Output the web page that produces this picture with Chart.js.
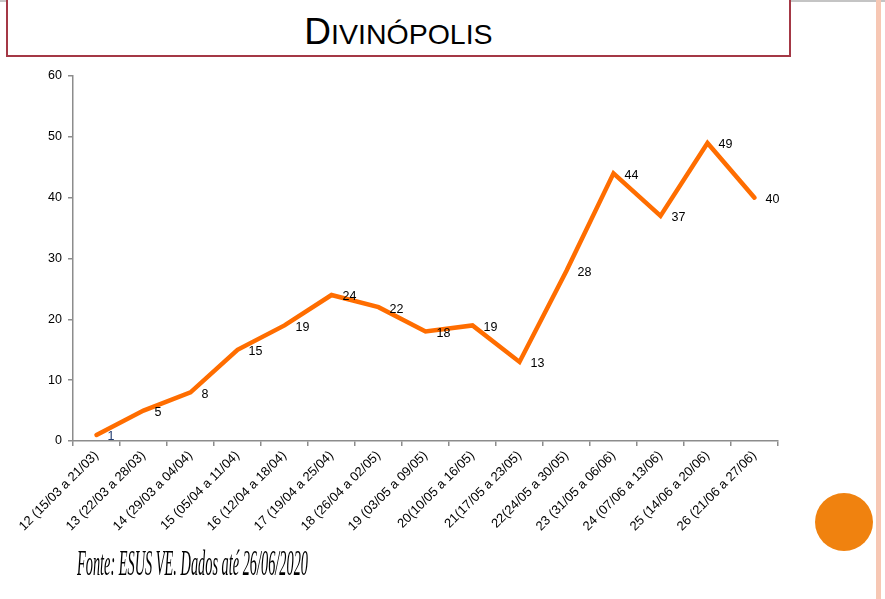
<!DOCTYPE html>
<html>
<head>
<meta charset="utf-8">
<script src="https://cdn.jsdelivr.net/npm/chart.js@4"></script>
<style>
  html, body { margin: 0; padding: 0; background: #fff; overflow: hidden; }
  #page { position: relative; width: 885px; height: 599px; }
  #topline { position: absolute; left: 0; top: 0; width: 885px; height: 2px; background: #c4c4c4; }
  #titlebox { position: absolute; left: 6px; top: -20px; width: 781px; height: 73px;
              border: 2.5px solid #a43845; background: #fff; text-align: center; }
  #title { position: absolute; left: 0; right: 0; top: 31px; font-family: Arial, "Liberation Sans", sans-serif;
           color: #000; line-height: 1; }
  #title .big { font-size: 37px; }
  #title .small { font-size: 28.5px; }
  #chart { position: absolute; left: 0; top: 0; }
  #fonte { position: absolute; left: 77px; top: 542px; font-family: "Liberation Serif", "Times New Roman", serif;
           font-style: italic; font-size: 36px; white-space: nowrap; transform-origin: 0 0; color: #000; }
  #dot { position: absolute; left: 815px; top: 493px; width: 58px; height: 58px; border-radius: 50%; background: #f0820f; }
  #edge { position: absolute; left: 876px; top: 0; width: 5px; height: 599px; background: #f7c7b4; }
</style>
</head>
<body>
<div id="page">
  <div id="topline"></div>
  <div id="titlebox"><div id="title"><span class="big">D</span><span class="small">IVINÓPOLIS</span></div></div>
  <canvas id="chart" width="885" height="599"></canvas>
  <div id="fonte">Fonte: ESUS VE. Dados até 26/06/2020</div>
  <div id="dot"></div>
  <div id="edge"></div>
</div>
<script>
const weeks = [
  '12 (15/03 a 21/03)', '13 (22/03 a 28/03)', '14 (29/03 a 04/04)', '15 (05/04 a 11/04)',
  '16 (12/04 a 18/04)', '17 (19/04 a 25/04)', '18 (26/04 a 02/05)', '19 (03/05 a 09/05)',
  '20(10/05 a 16/05)', '21(17/05 a 23/05)', '22(24/05 a 30/05)', '23 (31/05 a 06/06)',
  '24 (07/06 a 13/06)', '25 (14/06 a 20/06)', '26 (21/06 a 27/06)'
];
const cases = [1, 5, 8, 15, 19, 24, 22, 18, 19, 13, 28, 44, 37, 49, 40];
const yTicks = [0, 10, 20, 30, 40, 50, 60];

// value labels next to each point
const pointLabels = {
  id: 'pointLabels',
  afterDatasetsDraw(chart) {
    const ctx = chart.ctx;
    const meta = chart.getDatasetMeta(0);
    ctx.save();
    ctx.font = '12.5px Arial, "Liberation Sans", sans-serif';
    ctx.textAlign = 'left';
    ctx.textBaseline = 'middle';
    meta.data.forEach((pt, i) => {
      ctx.fillStyle = i === 0 ? '#1f3a6e' : '#000';
      ctx.fillText(String(chart.data.datasets[0].data[i]), pt.x + 11, pt.y + 2);
    });
    ctx.restore();
  }
};

new Chart(document.getElementById('chart').getContext('2d'), {
  type: 'line',
  data: {
    labels: weeks,
    datasets: [{
      data: cases,
      borderColor: '#ff6d00',
      borderWidth: 4.5,
      borderCapStyle: 'round',
      pointRadius: 0,
      tension: 0,
      fill: false
    }]
  },
  options: {
    responsive: false,
    animation: false,
    layout: { padding: { top: 76, right: 107, left: 0, bottom: 0 } },
    plugins: { legend: { display: false }, tooltip: { enabled: false } },
    scales: {
      x: {
        type: 'category',
        offset: true,
        grid: { offset: true, drawOnChartArea: false, drawTicks: true, tickLength: 5, color: '#8c8c8c', lineWidth: 1.5 },
        border: { display: true, color: '#8c8c8c', width: 1.5 },
        ticks: {
          color: '#000', font: { family: 'Arial, "Liberation Sans", sans-serif', size: 13 },
          maxRotation: 45, minRotation: 45, autoSkip: false, padding: 2
        },
        afterFit(scale) { scale.height = 158; }
      },
      y: {
        min: 0, max: 60,
        afterBuildTicks(scale) { scale.ticks = yTicks.map(v => ({ value: v })); },
        grid: { drawOnChartArea: false, drawTicks: true, tickLength: 5, color: '#8c8c8c', lineWidth: 1.5 },
        border: { display: true, color: '#8c8c8c', width: 1.5 },
        ticks: { color: '#000', font: { family: 'Arial, "Liberation Sans", sans-serif', size: 12.5 }, padding: 6 },
        afterFit(scale) { scale.width = 73; }
      }
    }
  },
  plugins: [pointLabels]
});

// squeeze the source line to the width it has in the slide
const fonte = document.getElementById('fonte');
fonte.style.transform = 'scaleX(' + (231 / fonte.offsetWidth) + ')';
</script>
</body>
</html>
